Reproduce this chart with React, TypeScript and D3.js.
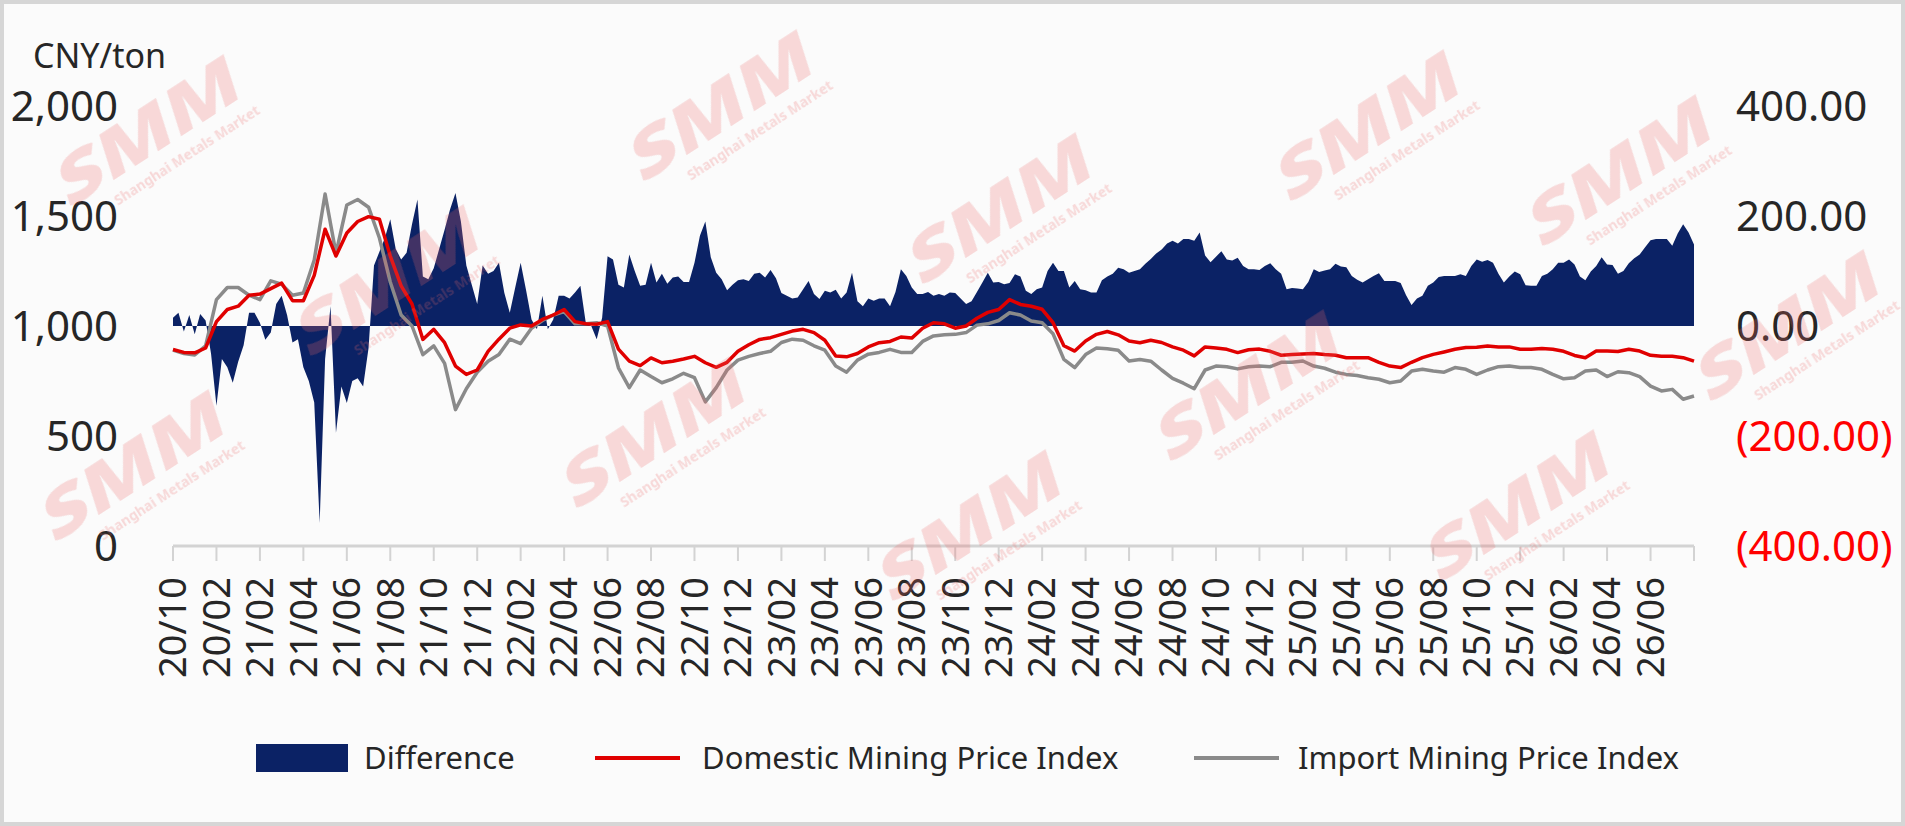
import * as d3 from "d3";

// x axis labels, one every two months (the second one reads "20/02" in the source)
const tickLabels = [
  "20/10", "20/02", "21/02", "21/04", "21/06", "21/08", "21/10", "21/12",
  "22/02", "22/04", "22/06", "22/08", "22/10", "22/12",
  "23/02", "23/04", "23/06", "23/08", "23/10", "23/12",
  "24/02", "24/04", "24/06", "24/08", "24/10", "24/12",
  "25/02", "25/04", "25/06", "25/08", "25/10", "25/12",
  "26/02", "26/04", "26/06",
];

// half-month samples, CNY/ton (left axis)
const domestic = [
  893, 880, 878, 900, 1020, 1075, 1090, 1140, 1145, 1170, 1195, 1115, 1115, 1230, 1440, 1318,
  1423, 1475, 1497, 1485, 1318, 1182, 1100, 939, 985, 924, 818, 780, 800, 885, 940, 990,
  1005, 1000, 1030, 1050, 1075, 1020, 1010, 1008, 1020, 895, 840, 820, 855, 833, 840, 850,
  862, 833, 812, 835, 885, 915, 939, 947, 962, 977, 985, 970, 935, 864, 860, 875,
  905, 924, 930, 950, 945, 990, 1015, 1010, 990, 1000, 1035, 1062, 1075, 1120, 1098, 1090,
  1076, 1015, 910, 886, 932, 962, 975, 960, 932, 924, 935, 925, 905, 890, 864, 905,
  900, 894, 879, 892, 895, 885, 867, 870, 873, 875, 870, 867, 856, 856, 856, 835,
  818, 811, 835, 856, 871, 882, 894, 902, 903, 909, 905, 905, 894, 894, 898, 894,
  885, 866, 856, 886, 886, 884, 894, 886, 867, 862, 862, 856, 840,
];

const imported = [
  890, 875, 868, 910, 1120, 1175, 1175, 1140, 1120, 1205, 1190, 1140, 1150, 1300, 1600, 1330,
  1550, 1575, 1540, 1400, 1200, 1050, 1000, 870, 910, 830, 620, 715, 790, 840, 870, 940,
  920, 990, 1025, 1050, 1065, 1010, 1010, 1015, 1000, 810, 720, 800, 770, 742, 760, 785,
  765, 655, 720, 800, 845, 862, 875, 885, 925, 940, 935, 910, 890, 818, 790, 845,
  872, 880, 894, 880, 880, 930, 955, 960, 962, 970, 1004, 1010, 1025, 1060, 1050, 1023,
  1015, 965, 848, 811, 870, 900, 897, 890, 841, 848, 840, 800, 762, 740, 715, 800,
  818, 815, 805, 815, 818, 815, 835, 835, 841, 818, 808, 790, 780, 775, 765, 758,
  742, 750, 795, 803, 795, 790, 811, 803, 780, 800, 815, 818, 811, 811, 803, 780,
  760, 765, 795, 800, 770, 792, 788, 770, 727, 705, 712, 667, 682,
];

// difference (right axis), quarter-month samples over the same span
const difference = [
  15, 24, -10, 20, -15, 22, 10, -50, -145, -60, -75, -103, -65, -35, 24, 24,
  6, -25, -12, 40, 55, 20, -30, -24, -75, -100, -139, -358, -60, 36, -194, -110,
  -140, -100, -95, -110, -40, 110, 135, 160, 194, 140, 121, 133, 185, 230, 90, 85,
  105, 140, 175, 212, 242, 190, 110, 75, 40, 110, 95, 100, 115, 60, 24, 70,
  115, 65, 12, -6, 55, -6, 12, 55, 55, 50, 61, 73, 5, 0, -24, 15,
  127, 121, 75, 70, 130, 100, 73, 75, 115, 79, 95, 77, 88, 90, 80, 80,
  115, 164, 190, 125, 97, 85, 65, 75, 83, 85, 82, 95, 97, 88, 102, 87,
  60, 55, 50, 52, 67, 82, 58, 49, 64, 61, 66, 50, 61, 97, 45, 36,
  50, 46, 50, 50, 36, 62, 103, 91, 70, 58, 58, 62, 55, 58, 55, 61,
  60, 50, 40, 45, 62, 79, 97, 79, 80, 76, 78, 94, 90, 64, 58, 67,
  70, 100, 115, 100, 100, 70, 82, 67, 65, 61, 61, 83, 90, 95, 106, 103,
  97, 100, 103, 113, 122, 132, 139, 150, 155, 150, 158, 158, 155, 170, 128, 116,
  126, 136, 121, 119, 124, 109, 103, 103, 102, 109, 114, 103, 95, 67, 69, 68,
  67, 80, 103, 98, 101, 103, 113, 108, 107, 91, 84, 79, 85, 91, 96, 82,
  82, 82, 78, 56, 38, 50, 55, 73, 79, 89, 91, 91, 91, 94, 91, 109,
  121, 117, 120, 115, 95, 79, 90, 99, 94, 74, 73, 73, 91, 95, 103, 115,
  115, 121, 112, 90, 83, 99, 109, 125, 112, 111, 95, 100, 114, 123, 130, 143,
  156, 158, 158, 158, 146, 168, 185, 170, 148,
];

const watermarks = [
  [150, 135], [723, 110], [1002, 213], [1622, 175], [1370, 130], [656, 437],
  [1250, 390], [1520, 510], [972, 530], [135, 470], [1790, 330], [390, 285],
];

const NAVY = "#0b2265";
const RED = "#e00000";
const GRAY = "#8a8a8a";
const FONT = "'Noto Sans', 'DejaVu Sans', sans-serif";

export default function App() {
  const width = 1905;
  const height = 826;

  const x = d3.scaleLinear().domain([0, domestic.length - 1]).range([173, 1694]);
  const xDiff = d3.scaleLinear().domain([0, difference.length - 1]).range([173, 1694]);
  const yLeft = d3.scaleLinear().domain([0, 2000]).range([546, 106]);
  const yRight = d3.scaleLinear().domain([-400, 400]).range([546, 106]);

  const area = d3
    .area<number>()
    .x((_, i) => xDiff(i))
    .y0(yRight(0))
    .y1((d) => yRight(d));

  const line = d3
    .line<number>()
    .x((_, i) => x(i))
    .y((d) => yLeft(d));

  const tickIdx = d3.range(0, domestic.length, 4);

  return (
    <svg
      width={width}
      height={height}
      style={{ position: "absolute", left: 0, top: 0 }}
      fontFamily={FONT}
    >
      <rect x={2} y={2} width={width - 4} height={height - 4} fill="#fbfbfb" stroke="#d6d6d6" strokeWidth={4} />

      <text x={33} y={68} fontSize={34} fill="#262626">CNY/ton</text>

      {yLeft.ticks(4).map((v) => (
        <text key={v} x={118} y={yLeft(v)} dy="0.35em" textAnchor="end" fontSize={42} fill="#262626">
          {d3.format(",")(v)}
        </text>
      ))}

      {yRight.ticks(4).map((v) => (
        <text
          key={v}
          x={1736}
          y={yRight(v)}
          dy="0.35em"
          fontSize={42}
          fill={v < 0 ? "#ff0000" : "#262626"}
        >
          {v < 0 ? `(${Math.abs(v).toFixed(2)})` : v.toFixed(2)}
        </text>
      ))}

      <path d={area(difference) || ""} fill={NAVY} />
      <path d={line(imported) || ""} fill="none" stroke={GRAY} strokeWidth={3.5} strokeLinejoin="round" />
      <path d={line(domestic) || ""} fill="none" stroke={RED} strokeWidth={3.5} strokeLinejoin="round" />

      <line x1={173} x2={1694} y1={546} y2={546} stroke="#d3d3d3" strokeWidth={3} />
      {tickIdx.map((i) => (
        <line key={i} x1={x(i)} x2={x(i)} y1={546} y2={561} stroke="#d3d3d3" strokeWidth={2} />
      ))}
      {tickLabels.map((t, k) => (
        <text
          key={t + k}
          transform={`translate(${x(k * 4)},577) rotate(-90)`}
          textAnchor="end"
          dy="0.35em"
          fontSize={38}
          fill="#262626"
        >
          {t}
        </text>
      ))}

      <g fontSize={31} fill="#262626">
        <rect x={256} y={744} width={92} height={28} fill={NAVY} />
        <text x={364} y={758} dy="0.35em">Difference</text>
        <line x1={595} x2={680} y1={758} y2={758} stroke={RED} strokeWidth={4} />
        <text x={702} y={758} dy="0.35em">Domestic Mining Price Index</text>
        <line x1={1194} x2={1279} y1={758} y2={758} stroke={GRAY} strokeWidth={4} />
        <text x={1298} y={758} dy="0.35em">Import Mining Price Index</text>
      </g>

      <g opacity={0.24} fill="#ec6a6a" pointerEvents="none">
        {watermarks.map(([wx, wy], i) => (
          <g key={i} transform={`translate(${wx},${wy}) rotate(-33)`}>
            <text
              textAnchor="middle"
              fontSize={64}
              fontWeight={900}
              transform="scale(1.3,1) skewX(-12)"
              y={18}
            >
              SMM
            </text>
            <text textAnchor="middle" fontSize={14} fontWeight={700} y={42} x={20}>
              Shanghai Metals Market
            </text>
          </g>
        ))}
      </g>
    </svg>
  );
}
